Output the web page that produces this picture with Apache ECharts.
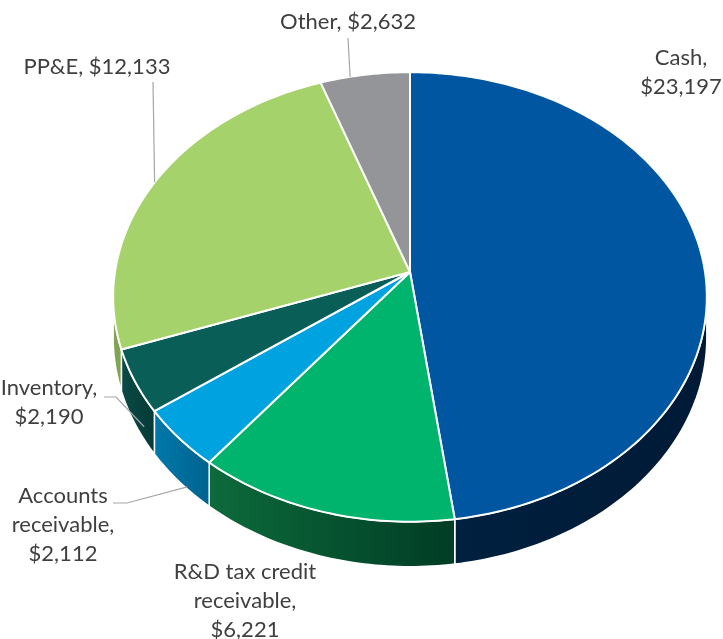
<!DOCTYPE html>
<html>
<head>
<meta charset="utf-8">
<script src="https://cdn.jsdelivr.net/npm/echarts@6/dist/echarts.min.js"></script>
<style>
  html, body { margin: 0; padding: 0; background: #fff; }
  #chart { width: 723px; height: 639px; }
</style>
</head>
<body>
<div id="chart"></div>
<script>
// data, clockwise from 12 o'clock
const categories = ['Cash', 'R&D tax credit\nreceivable', 'Accounts\nreceivable', 'Inventory', 'PP&E', 'Other']
const values = [23197, 6221, 2112, 2190, 12133, 2632]
const labelSep = ['\n', '\n', '\n', '\n', ' ', ' ']

const topColors = ['#0056a0', '#00b46e', '#00a2e0', '#0a5e58', '#a6d26c', '#939598']
// wall gradient, left -> right on screen
const wallColors = [['#00203f', '#001a36'], ['#0d6a3b', '#003d25'], ['#0079aa', '#00628f'],
  ['#0a4a46', '#053a37'], ['#7fa552', '#7fa552'], ['#6f7073', '#6f7073']]

// label layout: centre of text block, leader line start points, attach angle / wall depth
const labelLayout = [
  { x: 681, y: 72, line: null },
  { x: 245, y: 601, line: null },
  { x: 63, y: 525, line: [[113, 503], [127, 503]], attach: [224, 0.95] },
  { x: 49, y: 402, line: [[104, 397], [116, 397]], attach: [238, 0.7] },
  { x: 97, y: 67, line: [[153, 82]], attach: [295, 0] },
  { x: 348, y: 22, line: [[348, 38]], attach: [347, 0] }
]

// fake 3d projection of the pie disc
const CX = 410, CY = 272, S = 295, SY = 222, K = 0.111, DROP = 40
const total = values.reduce((a, b) => a + b, 0)
const silL = Math.acos(-K) * 180 / Math.PI      // right silhouette angle
const silR = 360 - silL                           // left silhouette angle

function proj(deg, zf) {
  const t = deg * Math.PI / 180
  const u = Math.sin(t), v = Math.cos(t)
  const d = 1 + K * v
  return [CX + S * u / d, CY - SY * v / d + zf * DROP / d]
}

function arc(a0, a1, zf) {
  const pts = []
  const n = Math.max(2, Math.ceil(Math.abs(a1 - a0)))
  for (let j = 0; j <= n; j++) pts.push(proj(a0 + (a1 - a0) * j / n, zf))
  return pts
}

function angles(i) {
  let start = 0
  for (let j = 0; j < i; j++) start += values[j]
  return [start / total * 360, (start + values[i]) / total * 360]
}

function fmt(v) {
  return '$' + v.toLocaleString('en-US')
}

const chart = echarts.init(document.getElementById('chart'))

chart.setOption({
  animation: false,
  series: [
    {
      // side walls
      type: 'custom',
      coordinateSystem: 'none',
      z: 1,
      data: values.map(v => [v]),
      renderItem: function (params, api) {
        const i = params.dataIndex
        const [a0, a1] = angles(i)
        const s = Math.max(a0, silL), e = Math.min(a1, silR)
        if (e <= s) return { type: 'group', children: [] }
        const pts = arc(s, e, 0).concat(arc(e, s, 1))
        const xs = pts.map(p => p[0])
        return {
          type: 'polygon',
          shape: { points: pts },
          style: {
            fill: new echarts.graphic.LinearGradient(Math.min(...xs), 0, Math.max(...xs), 0, [
              { offset: 0, color: wallColors[i][0] },
              { offset: 1, color: wallColors[i][1] }
            ], true),
            stroke: '#fff',
            lineWidth: 1.5,
            lineJoin: 'round'
          }
        }
      }
    },
    {
      // top faces and labels
      type: 'custom',
      coordinateSystem: 'none',
      z: 2,
      data: values.map(v => [v]),
      renderItem: function (params, api) {
        const i = params.dataIndex
        const [a0, a1] = angles(i)
        const pts = [[CX, CY]].concat(arc(a0, a1, 0))
        const lay = labelLayout[i]
        const children = [{
          type: 'polygon',
          shape: { points: pts },
          style: { fill: topColors[i], stroke: '#fff', lineWidth: 2, lineJoin: 'round' }
        }]
        if (lay.line) {
          children.push({
            type: 'polyline',
            shape: { points: lay.line.concat([proj(lay.attach[0], lay.attach[1])]) },
            style: { stroke: '#a6a6a6', lineWidth: 1.2, fill: null }
          })
        }
        children.push({
          type: 'text',
          style: {
            text: categories[i] + ',' + labelSep[i] + fmt(api.value(0)),
            x: lay.x,
            y: lay.y,
            align: 'center',
            verticalAlign: 'middle',
            fill: '#3f3f3f',
            fontSize: 22,
            fontFamily: 'Lato',
            lineHeight: 29
          }
        })
        return { type: 'group', children: children }
      }
    }
  ]
})
</script>
</body>
</html>
